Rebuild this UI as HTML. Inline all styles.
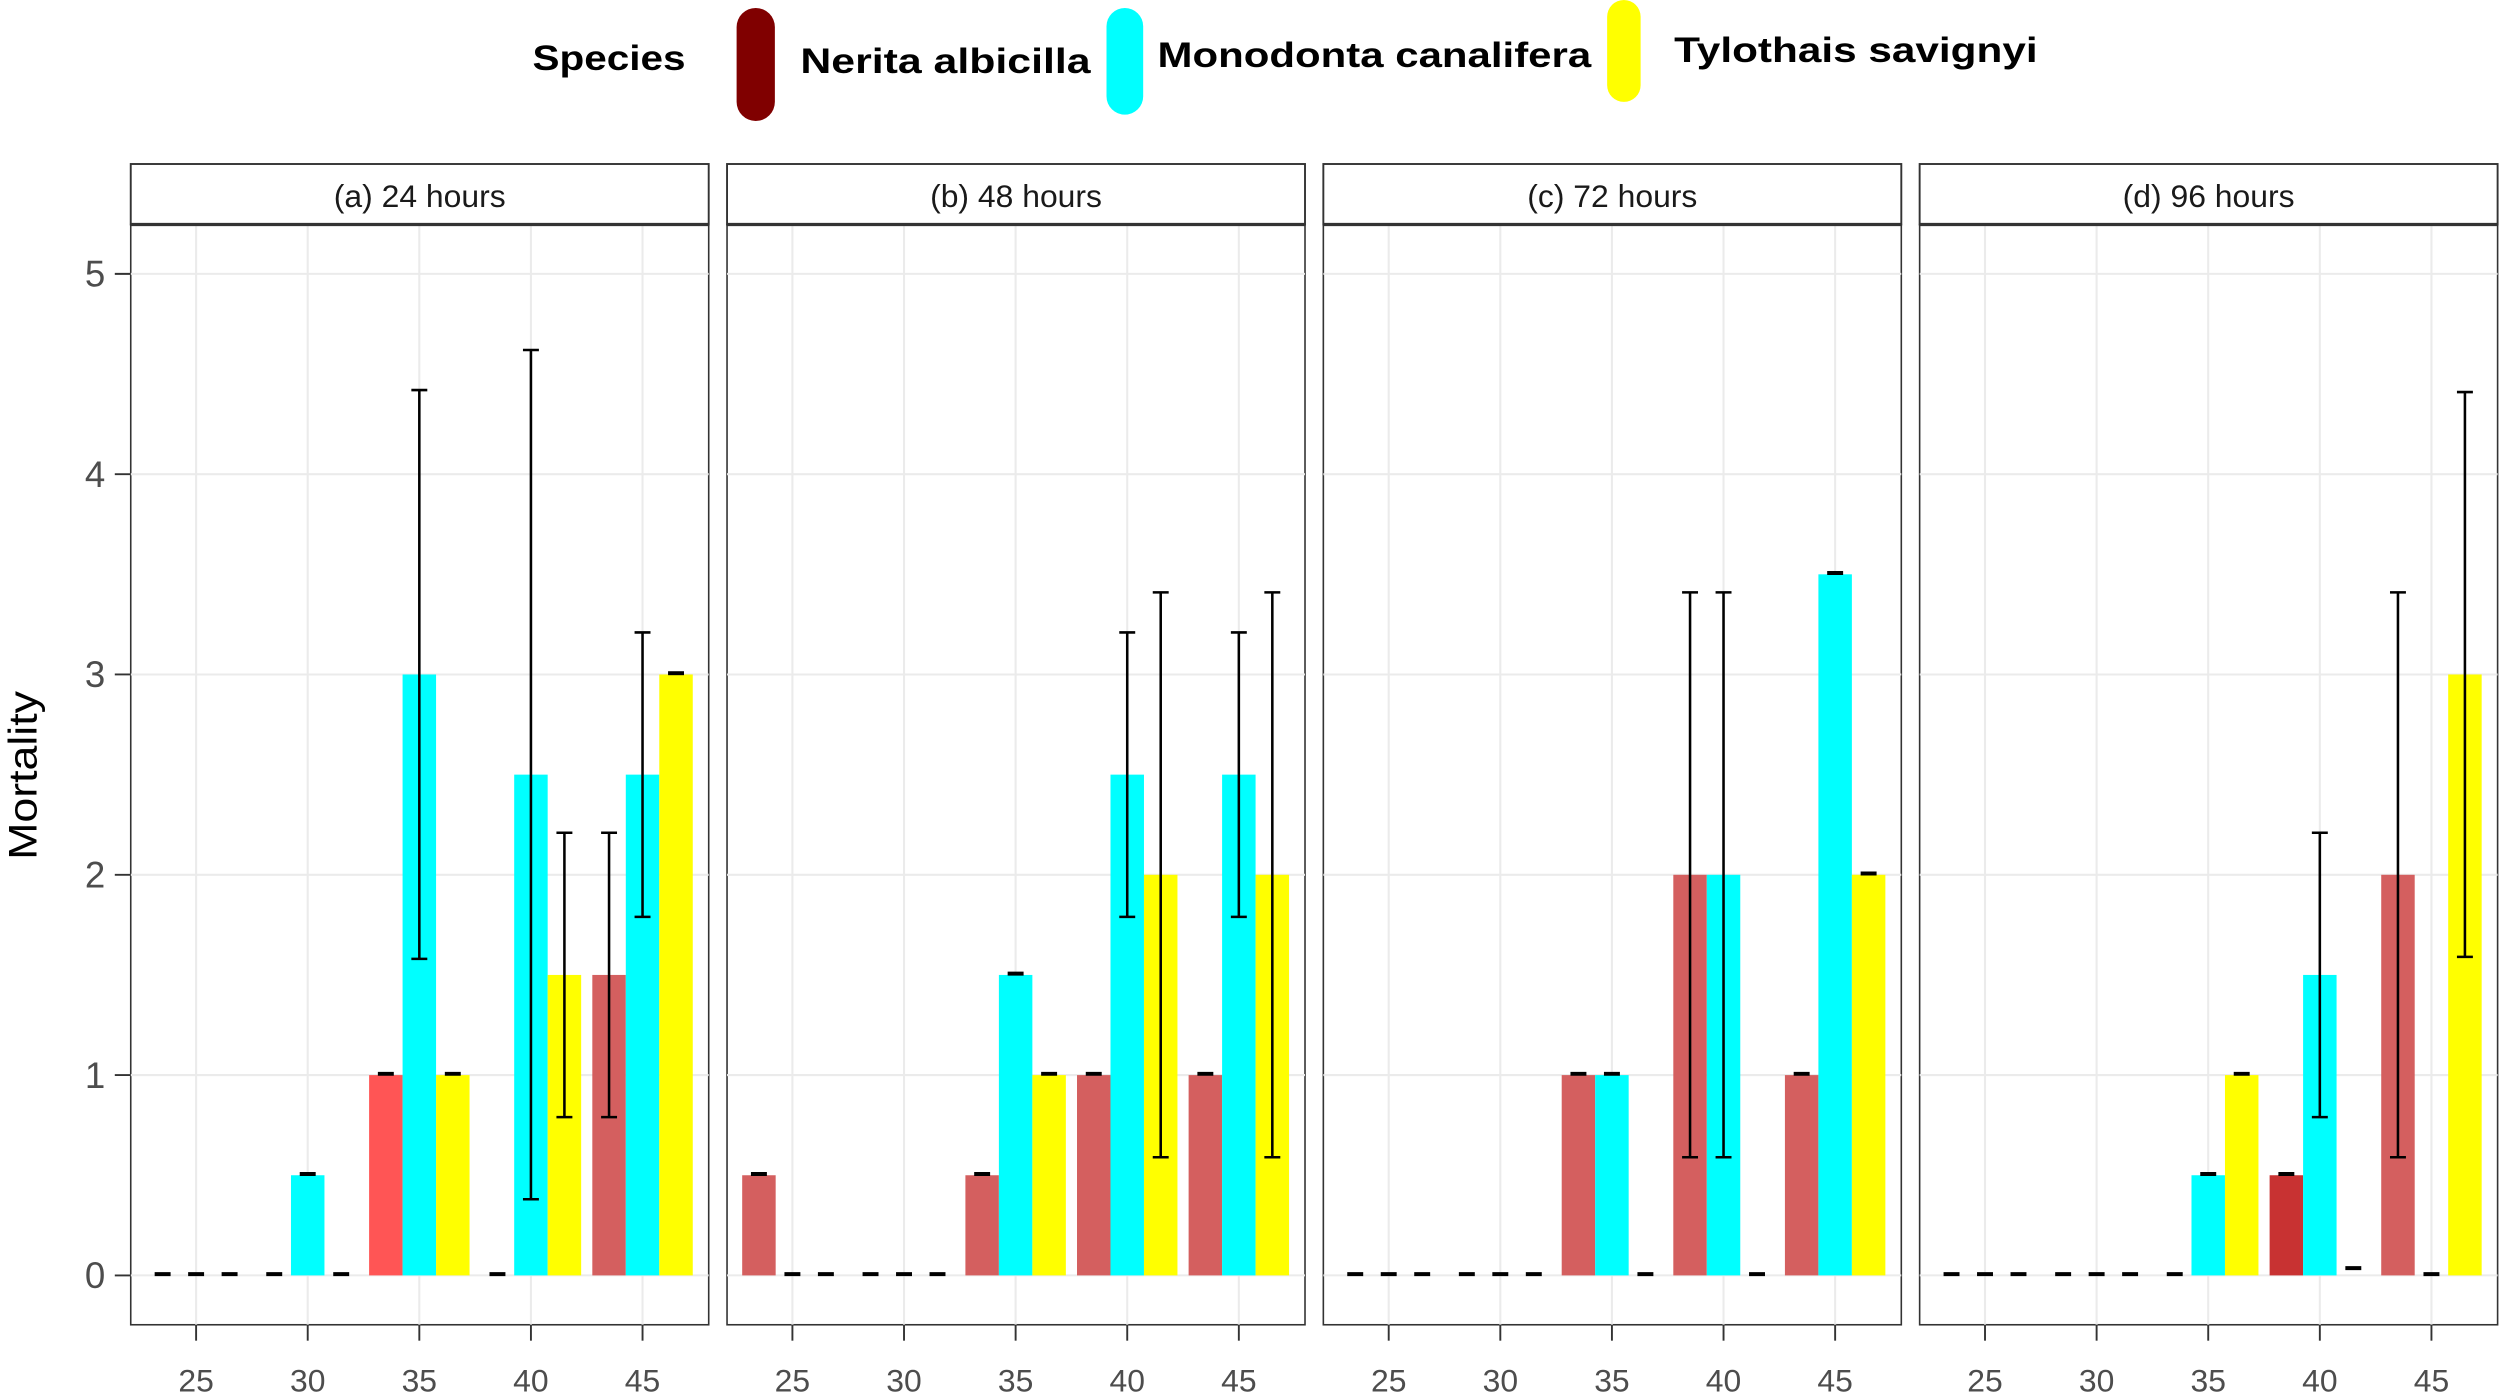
<!DOCTYPE html>
<html><head><meta charset="utf-8"><style>html,body{margin:0;padding:0;background:#fff;}svg{display:block;}</style></head>
<body>
<svg id="s" xmlns="http://www.w3.org/2000/svg" width="2500" height="1398" viewBox="0 0 1568 878" preserveAspectRatio="none" font-family="Liberation Sans, sans-serif"></svg>
<script>
const s=document.getElementById('s');let h='';
const P=[82,456,830,1204],W=362.5;
const Y=v=>801-v*125.8;
const titles=['(a) 24 hours','(b) 48 hours','(c) 72 hours','(d) 96 hours'];
const RC='#d45f5f',CC='#00ffff',YC='#ffff00';
const D=[
 [[[0],[0],[0]],[[0],[0.5],[0]],[[1,null,null,'#ff5555'],[3,1.58,4.42],[1]],[[0],[2.5,0.38,4.62],[1.5,0.79,2.21]],[[1.5,0.79,2.21],[2.5,1.79,3.21],[3]]],
 [[[0.5],[0],[0]],[[0],[0],[0]],[[0.5],[1.5],[1]],[[1],[2.5,1.79,3.21],[2,0.59,3.41]],[[1],[2.5,1.79,3.21],[2,0.59,3.41]]],
 [[[0],[0],[0]],[[0],[0],[0]],[[1],[1],[0]],[[2,0.59,3.41],[2,0.59,3.41],[0]],[[1],[3.5],[2]]],
 [[[0],[0],[0]],[[0],[0],[0]],[[0],[0.5],[1]],[[0.5,null,null,'#c83232'],[1.5,0.79,2.21],[0.03]],[[2,0.59,3.41],[0],[3,1.59,4.41]]]
];
P.forEach((x0,p)=>{
 h+=`<rect x="${x0}" y="141" width="${W}" height="691" fill="#fff" stroke="#333" stroke-width="1"/>`;
 for(let v=0;v<=5;v++)h+=`<line x1="${x0}" x2="${x0+W}" y1="${Y(v)}" y2="${Y(v)}" stroke="#ebebeb" stroke-width="1.3"/>`;
 for(let i=0;i<5;i++){const cx=x0+41+70*i;
  h+=`<line x1="${cx}" x2="${cx}" y1="141" y2="832" stroke="#ebebeb" stroke-width="1.3"/>`;
  h+=`<line x1="${cx}" x2="${cx}" y1="832" y2="842" stroke="#333" stroke-width="1.2"/>`;
  h+=`<text x="${cx}" y="874" font-size="20" fill="#4d4d4d" text-anchor="middle">${25+5*i}</text>`;
  const cols=[RC,CC,YC];
  D[p][i].forEach((d,k)=>{const bx=cx-31.5+21*k,c=d[3]||cols[k],v=d[0];
   if(v>0.05)h+=`<rect x="${bx}" y="${Y(v)}" width="21" height="${801-Y(v)}" fill="${c}"/>`;
   const m=bx+10.5;
   if(d[1]!=null&&d[1]!==undefined){h+=`<line x1="${m}" x2="${m}" y1="${Y(d[2])}" y2="${Y(d[1])}" stroke="#000" stroke-width="1.6"/>`;
    [d[1],d[2]].forEach(e=>h+=`<line x1="${m-5}" x2="${m+5}" y1="${Y(e)}" y2="${Y(e)}" stroke="#000" stroke-width="1.6"/>`);}
   else h+=`<line x1="${m-5}" x2="${m+5}" y1="${Y(v)-0.8}" y2="${Y(v)-0.8}" stroke="#000" stroke-width="2.5"/>`;
  });
 }
 h+=`<rect x="${x0}" y="103" width="${W}" height="38" fill="#fff" stroke="#333" stroke-width="1.2"/>`;
 h+=`<line x1="${x0}" x2="${x0+W}" y1="141" y2="141" stroke="#333" stroke-width="2"/>`;
 h+=`<text x="${x0+W/2}" y="130" font-size="20" fill="#1a1a1a" text-anchor="middle">${titles[p]}</text>`;
});
for(let v=0;v<=5;v++){h+=`<line x1="72" x2="82" y1="${Y(v)}" y2="${Y(v)}" stroke="#333" stroke-width="1.2"/>`;
 h+=`<text x="66" y="${Y(v)+8}" font-size="23" fill="#4d4d4d" text-anchor="end">${v}</text>`;}
h+=`<text transform="translate(23,487) rotate(-90)" font-size="25" text-anchor="middle" fill="#000" textLength="106" lengthAdjust="spacingAndGlyphs">Mortality</text>`;
h+=`<text x="334" y="44" font-size="22" font-weight="bold" textLength="96" lengthAdjust="spacingAndGlyphs">Species</text>`;
h+=`<rect x="462" y="5" width="24" height="71" rx="12" fill="#800000"/>`;
h+=`<text x="502" y="46" font-size="22" font-weight="bold" textLength="182" lengthAdjust="spacingAndGlyphs">Nerita albicilla</text>`;
h+=`<rect x="694" y="5" width="23" height="67" rx="11.5" fill="#00ffff"/>`;
h+=`<text x="726" y="42" font-size="22" font-weight="bold" textLength="272" lengthAdjust="spacingAndGlyphs">Monodonta canalifera</text>`;
h+=`<rect x="1008" y="0" width="21" height="64" rx="10.5" fill="#ffff00"/>`;
h+=`<text x="1050" y="39" font-size="22" font-weight="bold" textLength="228" lengthAdjust="spacingAndGlyphs">Tylothais savignyi</text>`;
s.innerHTML=h;
</script>
</body></html>
